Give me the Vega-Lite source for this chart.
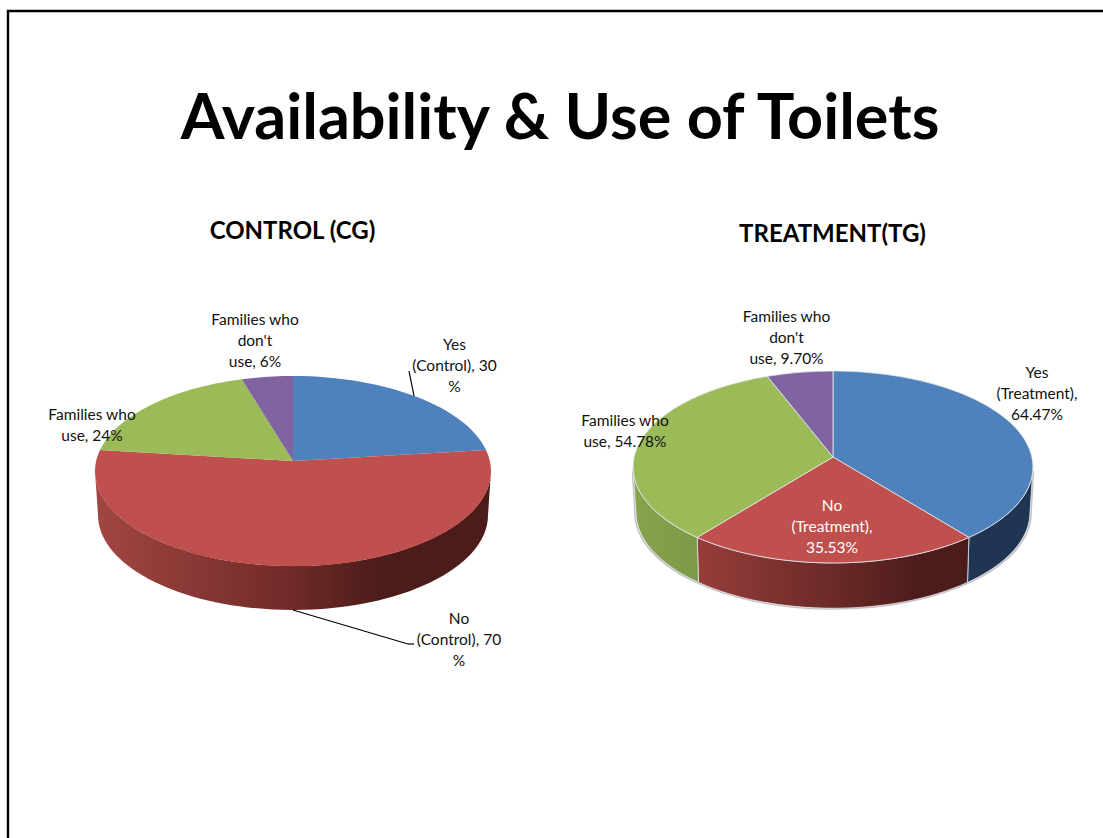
{
  "$schema": "https://vega.github.io/schema/vega-lite/v6.json",
  "width": 1103,
  "height": 838,
  "padding": 0,
  "autosize": "none",
  "background": "white",
  "config": {"view": {"stroke": null}, "axis": {"disable": true}, "text": {"font": "Lato"}},
  "datasets": {
    "slices": [
      {"chart": "Control", "slice": "Yes", "part": "Yes (Control)", "value": 30, "label": "Yes\n(Control), 30\n%"},
      {"chart": "Control", "slice": "No", "part": "No (Control)", "value": 70, "label": "No\n(Control), 70\n%"},
      {"chart": "Control", "slice": "Families who use", "part": "Families who use (Control)", "value": 24, "label": "Families who\nuse, 24%"},
      {"chart": "Control", "slice": "Families who don't use", "part": "Families who don't use (Control)", "value": 6, "label": "Families who\ndon't\nuse, 6%"},
      {"chart": "Treatment", "slice": "Yes", "part": "Yes (Treatment)", "value": 64.47, "label": "Yes\n(Treatment),\n64.47%"},
      {"chart": "Treatment", "slice": "No", "part": "No (Treatment)", "value": 35.53, "label": "No\n(Treatment),\n35.53%"},
      {"chart": "Treatment", "slice": "Families who use", "part": "Families who use (Treatment)", "value": 54.78, "label": "Families who\nuse, 54.78%"},
      {"chart": "Treatment", "slice": "Families who don't use", "part": "Families who don't use (Treatment)", "value": 9.7, "label": "Families who\ndon't\nuse, 9.70%"}
    ]
  },
  "layer": [
    {
      "data": {"values": [{"line": "slide frame top"}]},
      "mark": {"type": "rule", "color": "black", "strokeWidth": 2.4},
      "encoding": {
        "x": {"datum": 7, "type": "quantitative", "scale": {"domain": [0, 1103], "nice": false, "zero": false}},
        "x2": {"datum": 1103},
        "y": {"datum": 11, "type": "quantitative", "scale": {"domain": [0, 838], "reverse": true, "nice": false, "zero": false}}
      }
    },
    {
      "data": {"values": [{"line": "slide frame left"}]},
      "mark": {"type": "rule", "color": "black", "strokeWidth": 2.4},
      "encoding": {"x": {"datum": 8, "type": "quantitative"}, "y": {"datum": 10, "type": "quantitative"}, "y2": {"datum": 838}}
    },
    {
      "data": {"values": [{"heading": "Availability & Use of Toilets"}]},
      "mark": {"type": "text", "fontSize": 63, "fontWeight": "bold", "color": "black", "align": "center", "baseline": "middle"},
      "encoding": {"x": {"datum": 560, "type": "quantitative"}, "y": {"datum": 120, "type": "quantitative"}, "text": {"field": "heading"}}
    },
    {
      "data": {"values": [{"heading": "CONTROL (CG)"}]},
      "mark": {"type": "text", "fontSize": 24, "fontWeight": "bold", "color": "black", "align": "center", "baseline": "middle"},
      "encoding": {"x": {"datum": 292.5, "type": "quantitative"}, "y": {"datum": 232, "type": "quantitative"}, "text": {"field": "heading"}}
    },
    {
      "data": {"values": [{"heading": "TREATMENT(TG)"}]},
      "mark": {"type": "text", "fontSize": 24, "fontWeight": "bold", "color": "black", "align": "center", "baseline": "middle"},
      "encoding": {"x": {"datum": 832.5, "type": "quantitative"}, "y": {"datum": 235, "type": "quantitative"}, "text": {"field": "heading"}}
    },
    {
      "data": {"values": [{"rim": "Treatment shadow"}]},
      "mark": {"type": "point", "filled": false, "stroke": "#c2c2c2", "strokeWidth": 1.6, "size": 4, "opacity": 1},
      "encoding": {
        "x": {"datum": 833, "type": "quantitative"},
        "y": {"datum": 457, "type": "quantitative"},
        "shape": {"value": "M-200.5,14L-198,56A198,96,0,0,0,198,56L200.5,14"}
      }
    },
    {
      "data": {"name": "slices"},
      "transform": [{"filter": "datum.part === 'No (Control)'"}],
      "mark": {"type": "point", "filled": true, "size": 4, "opacity": 1,
        "fill": {"gradient": "linear", "x1": 0, "y1": 0, "x2": 1, "y2": 0, "stops": [
          {"offset": 0, "color": "#A24642"}, {"offset": 0.5, "color": "#6F2A28"}, {"offset": 0.72, "color": "#4C1C1A"}, {"offset": 1, "color": "#4C1C1A"}]}},
      "encoding": {
        "x": {"datum": 293, "type": "quantitative"},
        "y": {"datum": 461, "type": "quantitative"},
        "shape": {"value": "M198,10A198,95,0,0,1,-198,10L-195,54A195,95,0,0,0,195,54Z"}
      }
    },
    {
      "data": {"name": "slices"},
      "transform": [{"filter": "datum.part === 'Yes (Treatment)'"}],
      "mark": {"type": "point", "filled": true, "size": 4, "opacity": 1, "fill": "#1F3552", "stroke": "#dfe5ea", "strokeWidth": 0.8},
      "encoding": {
        "x": {"datum": 833, "type": "quantitative"},
        "y": {"datum": 457, "type": "quantitative"},
        "shape": {"value": "M200,10A200,96,0,0,1,135.9,80.4L134.5,125.4A197,96,0,0,0,197,55Z"}
      }
    },
    {
      "data": {"name": "slices"},
      "transform": [{"filter": "datum.part === 'No (Treatment)'"}],
      "mark": {"type": "point", "filled": true, "size": 4, "opacity": 1, "stroke": "#dfe5ea", "strokeWidth": 0.8,
        "fill": {"gradient": "linear", "x1": 0, "y1": 0, "x2": 1, "y2": 0, "stops": [
          {"offset": 0, "color": "#973D3A"}, {"offset": 0.5, "color": "#6B2A28"}, {"offset": 0.82, "color": "#4C1C1A"}, {"offset": 1, "color": "#4C1C1A"}]}},
      "encoding": {
        "x": {"datum": 833, "type": "quantitative"},
        "y": {"datum": 457, "type": "quantitative"},
        "shape": {"value": "M135.9,80.4A200,96,0,0,1,-135.8,80.4L-134.5,125.4A197,96,0,0,0,134.5,125.4Z"}
      }
    },
    {
      "data": {"name": "slices"},
      "transform": [{"filter": "datum.part === 'Families who use (Treatment)'"}],
      "mark": {"type": "point", "filled": true, "size": 4, "opacity": 1, "stroke": "#dfe5ea", "strokeWidth": 0.8,
        "fill": {"gradient": "linear", "x1": 0, "y1": 0, "x2": 1, "y2": 0, "stops": [
          {"offset": 0, "color": "#88A34E"}, {"offset": 1, "color": "#7D9947"}]}},
      "encoding": {
        "x": {"datum": 833, "type": "quantitative"},
        "y": {"datum": 457, "type": "quantitative"},
        "shape": {"value": "M-135.8,80.4A200,96,0,0,1,-200,10L-197,55A197,96,0,0,0,-134.5,125.4Z"}
      }
    },
    {
      "data": {"name": "slices"},
      "transform": [{"filter": "datum.chart === 'Control'"}],
      "mark": {"type": "point", "filled": true, "size": 4, "opacity": 1, "strokeWidth": 0},
      "encoding": {
        "x": {"datum": 293, "type": "quantitative"},
        "y": {"datum": 461, "type": "quantitative"},
        "color": {"field": "slice", "type": "nominal", "legend": null,
          "scale": {"domain": ["Yes", "No", "Families who use", "Families who don't use"], "range": ["#4F81BD", "#C0504D", "#9BBB59", "#8064A2"]}},
        "shape": {"field": "part", "type": "nominal", "legend": null,
          "scale": {
            "domain": ["Yes (Control)", "No (Control)", "Families who use (Control)", "Families who don't use (Control)",
                       "Yes (Treatment)", "No (Treatment)", "Families who use (Treatment)", "Families who don't use (Treatment)"],
            "range": ["M0,0L0,-85A198,95,0,0,1,193,-11Z", "M0,0L193,-11A198,95,0,1,1,-193,-11Z", "M0,0L-193,-11A198,95,0,0,1,-51.2,-81.75Z", "M0,0L-51.2,-81.75A198,95,0,0,1,0,-85Z",
                      "M0,0L0,-86A200,96,0,0,1,135.9,80.4Z", "M0,0L135.9,80.4A200,96,0,0,1,-135.8,80.4Z", "M0,0L-135.8,80.4A200,96,0,0,1,-65.7,-80.7Z", "M0,0L-65.7,-80.7A200,96,0,0,1,0,-86Z"]
          }}
      }
    },
    {
      "data": {"name": "slices"},
      "transform": [{"filter": "datum.chart === 'Treatment'"}],
      "mark": {"type": "point", "filled": true, "size": 4, "opacity": 1, "stroke": "#e4eaef", "strokeWidth": 0.8},
      "encoding": {
        "x": {"datum": 833, "type": "quantitative"},
        "y": {"datum": 457, "type": "quantitative"},
        "color": {"field": "slice", "type": "nominal", "legend": null},
        "shape": {"field": "part", "type": "nominal", "legend": null}
      }
    },
    {
      "data": {"values": [{"leader": "Yes (Control)"}]},
      "mark": {"type": "rule", "color": "black", "strokeWidth": 1.2},
      "encoding": {"x": {"datum": 409, "type": "quantitative"}, "x2": {"datum": 414}, "y": {"datum": 371, "type": "quantitative"}, "y2": {"datum": 396}}
    },
    {
      "data": {"values": [{"leader": "No (Control)"}]},
      "mark": {"type": "rule", "color": "black", "strokeWidth": 1.2},
      "encoding": {"x": {"datum": 293, "type": "quantitative"}, "x2": {"datum": 408}, "y": {"datum": 610, "type": "quantitative"}, "y2": {"datum": 644}}
    },
    {
      "data": {"values": [{"leader": "No (Control) elbow"}]},
      "mark": {"type": "rule", "color": "black", "strokeWidth": 1.2},
      "encoding": {"x": {"datum": 408, "type": "quantitative"}, "x2": {"datum": 414}, "y": {"datum": 644, "type": "quantitative"}, "y2": {"datum": 644}}
    },
    {
      "data": {"name": "slices"},
      "transform": [{"filter": "datum.part === 'Yes (Control)'"}],
      "mark": {"type": "text", "fontSize": 15.5, "lineHeight": 21, "lineBreak": "\n", "color": "#111", "align": "center", "baseline": "middle"},
      "encoding": {"x": {"datum": 454.5, "type": "quantitative"}, "y": {"datum": 345, "type": "quantitative"}, "text": {"field": "label"}}
    },
    {
      "data": {"name": "slices"},
      "transform": [{"filter": "datum.part === 'No (Control)'"}],
      "mark": {"type": "text", "fontSize": 15.5, "lineHeight": 21, "lineBreak": "\n", "color": "#111", "align": "center", "baseline": "middle"},
      "encoding": {"x": {"datum": 459, "type": "quantitative"}, "y": {"datum": 619, "type": "quantitative"}, "text": {"field": "label"}}
    },
    {
      "data": {"name": "slices"},
      "transform": [{"filter": "datum.part === 'Families who use (Control)'"}],
      "mark": {"type": "text", "fontSize": 15.5, "lineHeight": 21, "lineBreak": "\n", "color": "#111", "align": "center", "baseline": "middle"},
      "encoding": {"x": {"datum": 92, "type": "quantitative"}, "y": {"datum": 415, "type": "quantitative"}, "text": {"field": "label"}}
    },
    {
      "data": {"name": "slices"},
      "transform": [{"filter": "datum.part === \"Families who don't use (Control)\""}],
      "mark": {"type": "text", "fontSize": 15.5, "lineHeight": 21, "lineBreak": "\n", "color": "#111", "align": "center", "baseline": "middle"},
      "encoding": {"x": {"datum": 255, "type": "quantitative"}, "y": {"datum": 320, "type": "quantitative"}, "text": {"field": "label"}}
    },
    {
      "data": {"name": "slices"},
      "transform": [{"filter": "datum.part === 'Yes (Treatment)'"}],
      "mark": {"type": "text", "fontSize": 15.5, "lineHeight": 21, "lineBreak": "\n", "color": "#111", "align": "center", "baseline": "middle"},
      "encoding": {"x": {"datum": 1037, "type": "quantitative"}, "y": {"datum": 373, "type": "quantitative"}, "text": {"field": "label"}}
    },
    {
      "data": {"name": "slices"},
      "transform": [{"filter": "datum.part === 'No (Treatment)'"}],
      "mark": {"type": "text", "fontSize": 15.5, "lineHeight": 21, "lineBreak": "\n", "color": "white", "align": "center", "baseline": "middle"},
      "encoding": {"x": {"datum": 832, "type": "quantitative"}, "y": {"datum": 506, "type": "quantitative"}, "text": {"field": "label"}}
    },
    {
      "data": {"name": "slices"},
      "transform": [{"filter": "datum.part === 'Families who use (Treatment)'"}],
      "mark": {"type": "text", "fontSize": 15.5, "lineHeight": 21, "lineBreak": "\n", "color": "#111", "align": "center", "baseline": "middle"},
      "encoding": {"x": {"datum": 625, "type": "quantitative"}, "y": {"datum": 421, "type": "quantitative"}, "text": {"field": "label"}}
    },
    {
      "data": {"name": "slices"},
      "transform": [{"filter": "datum.part === \"Families who don't use (Treatment)\""}],
      "mark": {"type": "text", "fontSize": 15.5, "lineHeight": 21, "lineBreak": "\n", "color": "#111", "align": "center", "baseline": "middle"},
      "encoding": {"x": {"datum": 786.5, "type": "quantitative"}, "y": {"datum": 317, "type": "quantitative"}, "text": {"field": "label"}}
    }
  ]
}
